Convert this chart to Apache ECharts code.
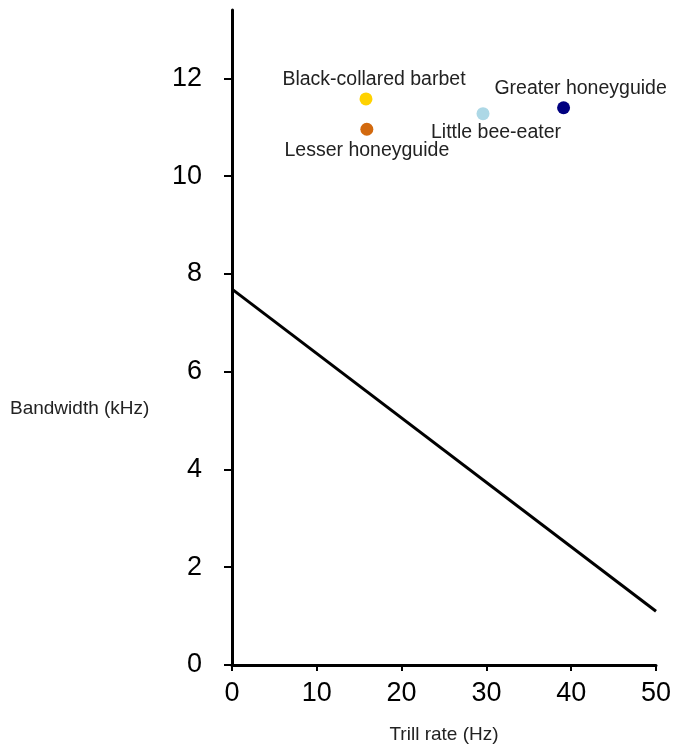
<!DOCTYPE html>
<html>
<head>
<meta charset="utf-8">
<script src="https://cdn.jsdelivr.net/npm/echarts@6/dist/echarts.min.js"></script>
<style>
  html, body { margin: 0; padding: 0; background: #fff; }
  #main { width: 673px; height: 745px; }
</style>
</head>
<body>
<div id="main"></div>
<script>
var species = ['Black-collared barbet', 'Lesser honeyguide', 'Little bee-eater', 'Greater honeyguide'];
var trillRate = [15.8, 15.9, 29.6, 39.1];
var bandwidth = [11.58, 10.96, 11.28, 11.40];
var colors = ['#FFD200', '#D2690E', '#ADD8E6', '#000080'];
var labelPos = ['top', 'bottom', 'bottom', 'top'];
var labelShift = [[8, 2], [0, 0], [13, -3], [17, 2]];

// upper-bound regression line
var lineX = [0, 50];
var lineY = [7.69, 1.10];

var myChart = echarts.init(document.getElementById('main'));
var font = 'Liberation Sans';

var series = species.map(function (name, i) {
    return {
        name: name,
        type: 'scatter',
        symbolSize: 13,
        itemStyle: { color: colors[i], opacity: 1 },
        label: {
            show: true,
            formatter: name,
            position: labelPos[i],
            distance: 5,
            offset: labelShift[i],
            color: '#222',
            fontSize: 19.5,
            fontFamily: font
        },
        data: [[trillRate[i], bandwidth[i]]]
    };
});

series.push({
    name: 'line',
    type: 'line',
    symbol: 'none',
    lineStyle: { color: '#000', width: 3 },
    data: lineX.map(function (x, i) { return [x, lineY[i]]; })
});

myChart.setOption({
    animation: false,
    grid: { left: 232, right: 17, top: 10, bottom: 80, outerBoundsMode: 'none', containLabel: false },
    graphic: [{
        type: 'text',
        left: 10,
        top: 399,
        style: { text: 'Bandwidth (kHz)', fill: '#222', font: '19px "Liberation Sans"' }
    }],
    xAxis: {
        type: 'value',
        min: 0,
        max: 50,
        interval: 10,
        name: 'Trill rate (Hz)',
        nameLocation: 'middle',
        nameGap: 60,
        nameTextStyle: { color: '#222', fontSize: 19, fontFamily: font },
        axisLine: { onZero: false, lineStyle: { color: '#000', width: 3 } },
        axisTick: { show: true, length: 6, lineStyle: { color: '#000', width: 2 } },
        axisLabel: { color: '#000', fontSize: 27, margin: 15, fontFamily: font },
        splitLine: { show: false }
    },
    yAxis: {
        type: 'value',
        min: 0,
        max: 13.4,
        interval: 2,
        axisLine: { show: true, onZero: false, lineStyle: { color: '#000', width: 3 } },
        axisTick: { show: true, length: 8, lineStyle: { color: '#000', width: 2 } },
        axisLabel: { color: '#000', fontSize: 27, margin: 30, showMaxLabel: false, fontFamily: font },
        splitLine: { show: false }
    },
    series: series
});
</script>
</body>
</html>
